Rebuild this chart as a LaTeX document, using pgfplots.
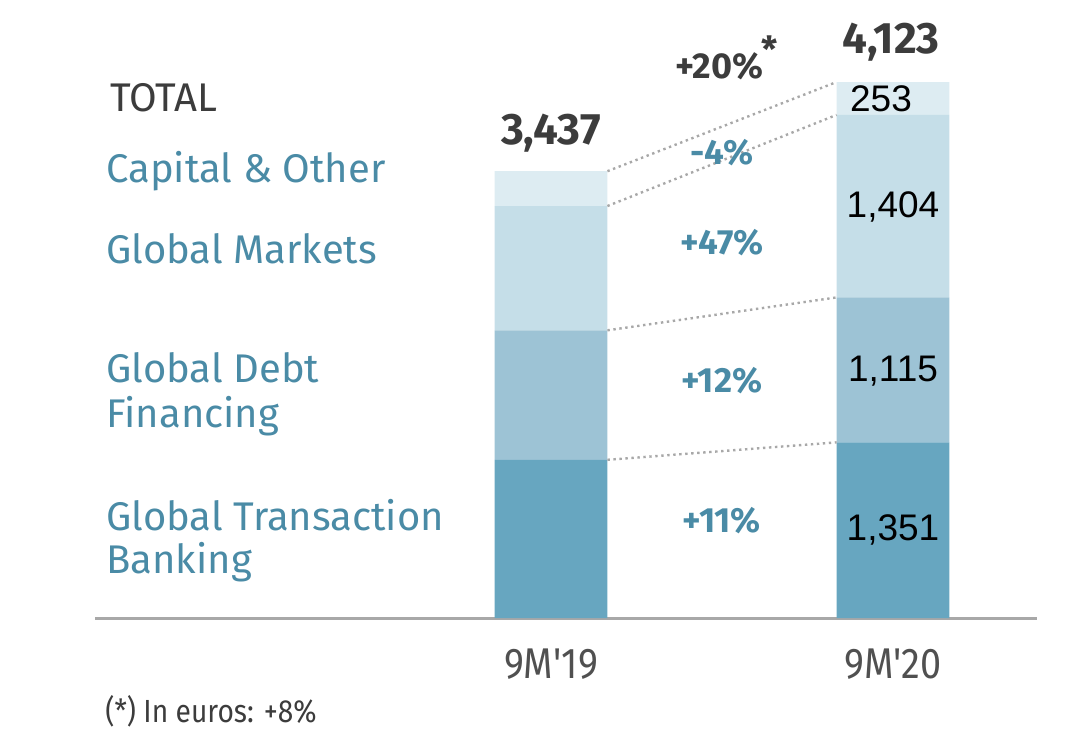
\documentclass[border=0pt]{standalone}
\usepackage{fontspec}
\setmainfont{Fira Sans}
\newfontfamily\condfont[FakeStretch=0.88]{Fira Sans}
\newfontfamily\arialfont{Liberation Sans}
\usepackage{pgfplots}
\pgfplotsset{compat=1.18}

\definecolor{gtb}{HTML}{67A6C0}
\definecolor{gdf}{HTML}{9DC3D5}
\definecolor{gm}{HTML}{C5DEE8}
\definecolor{cap}{HTML}{DDECF2}
\definecolor{teal}{HTML}{4A8BA6}
\definecolor{dark}{HTML}{3C3C3C}
\definecolor{dots}{HTML}{A8A8A8}

\begin{document}
\begin{tikzpicture}
% pixel frame: 0.5pt per pixel of the reference, axis corner at pixel (95,618)
\path[use as bounding box] (-47.5pt,-58pt) rectangle (495pt,309pt);

\pgfplotsset{base/.style={
    anchor=south west, at={(0,0)},
    scale only axis, width=471pt, height=309pt,
    xmin=-1.3333, xmax=1.4211, ymin=0, ymax=4754,
    clip=false,
},
conn/.style={draw=dots, no markers, line width=1.2pt, dash pattern=on 1.2pt off 1.8pt}}

\begin{axis}[base,
    ybar stacked, bar width=0.33,
    axis x line=bottom, axis y line=none,
    axis line style={-, draw=dots, line width=1.5pt},
    xtick={0,1}, xticklabels={9M'19,9M'20},
    major tick length=0pt,
    xticklabel style={font=\condfont\fontsize{21.5}{24}\selectfont, text=dark!90, yshift=-12pt},
    ytick=\empty,
]
\addplot[fill=gtb, draw=none] coordinates {(0,1217) (1,1351)};
\addplot[fill=gdf, draw=none] coordinates {(0,996) (1,1115)};
\addplot[fill=gm,  draw=none] coordinates {(0,956) (1,1404)};
\addplot[fill=cap, draw=none] coordinates {(0,268) (1,253)};
\end{axis}

\begin{axis}[base, axis lines=none, ticks=none]
\addplot[conn] coordinates {(0.165,1217) (0.835,1351)};
\addplot[conn] coordinates {(0.165,2213) (0.835,2466)};
\addplot[conn] coordinates {(0.165,3169) (0.835,3870)};
\addplot[conn] coordinates {(0.165,3437) (0.835,4123)};
\end{axis}

\begin{scope}[x=0.5pt, y=-0.5pt, shift={(-95,-618)}]
  % left-hand labels
  \node[anchor=base west, inner sep=0, text=dark, font=\fontsize{20}{24}\selectfont] at (110,112) {TOTAL};
  \begin{scope}[every node/.style={anchor=base west, inner sep=0, text=teal, font=\fontsize{20}{24}\selectfont}]
    \node at (106,183) {Capital \& Other};
    \node at (106,263) {Global Markets};
    \node at (106,382) {Global Debt};
    \node at (106,427) {Financing};
    \node at (106,530) {Global Transaction};
    \node at (106,573) {Banking};
  \end{scope}
  % totals
  \node[anchor=base, inner sep=0, text=dark, font=\bfseries\fontsize{22}{24}\selectfont] at (551,145) {3,437};
  \node[anchor=base, inner sep=0, text=dark, font=\bfseries\fontsize{22}{24}\selectfont] at (891,54) {4,123};
  \node[anchor=base, inner sep=0, text=dark, font=\bfseries\fontsize{18}{20}\selectfont] at (719,79) {+20\%};
  \node[anchor=base, inner sep=0, text=dark, font=\bfseries\fontsize{18}{20}\selectfont] at (770,63) {*};
  % growth rates
  \begin{scope}[every node/.style={anchor=center, inner sep=0, text=teal, font=\bfseries\fontsize{17.5}{20}\selectfont}]
    \node at (722,153) {-4\%};
    \node at (722,243) {+47\%};
    \node at (722,381) {+12\%};
    \node at (722,521) {+11\%};
  \end{scope}
  % values in the 9M'20 bar
  \begin{scope}[every node/.style={anchor=center, inner sep=0, text=black, font=\arialfont\fontsize{18.5}{22}\selectfont}]
    \node at (881,99) {253};
    \node at (893,207) {1,404};
    \node at (893,371) {1,115};
    \node at (893,530) {1,351};
  \end{scope}
  % footnote
  \node[anchor=base west, inner sep=0, text=dark, font=\condfont\fontsize{16}{20}\selectfont] at (105,722) {(*) In euros: +8\%};
\end{scope}
\end{tikzpicture}
\end{document}
